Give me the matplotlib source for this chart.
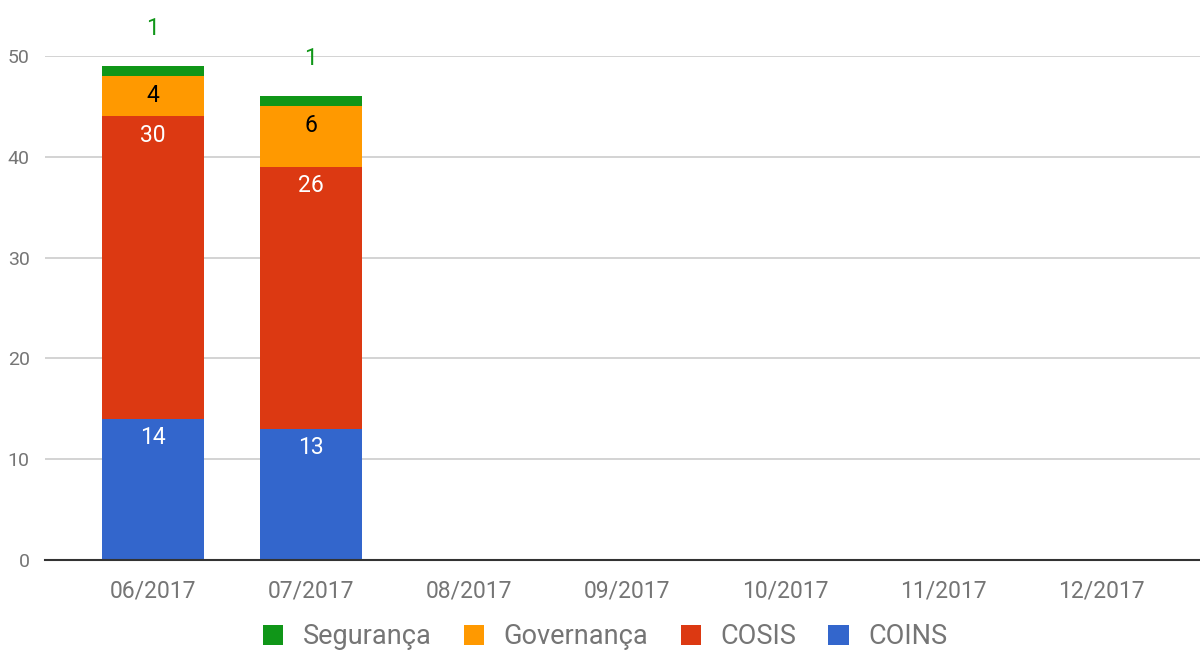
import matplotlib
matplotlib.use("Agg")
import matplotlib.pyplot as plt
from matplotlib.patches import Patch
import numpy as np

plt.rcParams['font.family'] = ['Roboto', 'DejaVu Sans']

categories = ["06/2017", "07/2017", "08/2017", "09/2017", "10/2017", "11/2017", "12/2017"]
coins = [14, 13, 0, 0, 0, 0, 0]
cosis = [30, 26, 0, 0, 0, 0, 0]
governanca = [4, 6, 0, 0, 0, 0, 0]
seguranca = [1, 1, 0, 0, 0, 0, 0]
series_names = ["COINS", "COSIS", "Governança", "Segurança"]
colors = ["#3366cc", "#dc3912", "#ff9900", "#109618"]
label_colors = ["white", "white", "black", "#109618"]
yticks = [0, 10, 20, 30, 40, 50]

W, H = 1200, 651
fig = plt.figure(figsize=(W/100, H/100), dpi=100)
ax = fig.add_axes([45/W, 1-560/H, 1155/W, (560-56)/H])

x = np.arange(len(categories))
bw = 102/158
ax.set_xlim(-108/158, -108/158 + 1155/158)
ax.set_ylim(0, 50)

bottom = np.zeros(len(categories))
data = [coins, cosis, governanca, seguranca]
for i, (vals, col) in enumerate(zip(data, colors)):
    vals = np.array(vals, dtype=float)
    ax.bar(x, vals, bw, bottom=bottom, color=col, zorder=3, linewidth=0)
    for xi, v, b in zip(x, vals, bottom):
        if v <= 0:
            continue
        top = b + v
        if i < 3:
            ax.annotate(f"{int(v)}", (xi, top), xytext=(0, -19*0.72), textcoords='offset points',
                        ha='center', va='center', color=label_colors[i], fontsize=16.5, zorder=4)
        else:
            ax.annotate(f"{int(v)}", (xi, top), xytext=(0, 38*0.72), textcoords='offset points',
                        ha='center', va='center', color=label_colors[i], fontsize=16.5,
                        zorder=4, annotation_clip=False)
    bottom = bottom + vals

ax.set_yticks(yticks)
ax.set_yticklabels([str(t) for t in yticks], fontsize=14, color="#757575")
ax.set_xticks(x)
ax.set_xticklabels(categories, fontsize=16.5, color="#757575")
ax.tick_params(axis='both', length=0)
ax.tick_params(axis='y', pad=11)
ax.tick_params(axis='x', pad=14)
ax.grid(axis='y', color="#cccccc", linewidth=1.2, zorder=0)
for s in ["top", "right", "left"]:
    ax.spines[s].set_visible(False)
ax.spines["bottom"].set_color("#333333")
ax.spines["bottom"].set_linewidth(1.5)
ax.spines["bottom"].set_zorder(5)

handles = [Patch(facecolor=colors[i], edgecolor='none') for i in [3, 2, 1, 0]]
labels = [series_names[i] for i in [3, 2, 1, 0]]
leg = fig.legend(handles, labels, loc='center', bbox_to_anchor=(605/W, 1-637/H), ncol=4,
                 frameon=False, fontsize=19.5, handlelength=0.74, handleheight=0.74,
                 handletextpad=0.72, columnspacing=1.2, labelcolor="#757575")

fig.savefig("out.png", dpi=100)
